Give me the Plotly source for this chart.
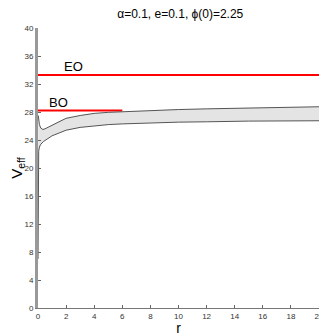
import plotly.graph_objects as go

# upper and lower boundary of the shaded V_eff band
r_upper = [0.02, 0.1, 0.2, 0.35, 0.5, 0.8, 1.2, 1.6, 2, 3, 4, 5, 6, 8, 10, 12, 15, 20]
v_upper = [27.5, 26.2, 25.7, 25.5, 25.6, 25.9, 26.4, 26.8, 27.1, 27.5, 27.8, 27.95, 28.05, 28.2, 28.35, 28.45, 28.6, 28.75]
r_lower = [0.0, 0.02, 0.05, 0.1, 0.2, 0.4, 0.7, 1, 1.5, 2, 3, 4, 5, 6, 8, 10, 12, 15, 20]
v_lower = [7.0, 20.0, 22.4, 23.0, 23.4, 23.8, 24.2, 24.6, 25.0, 25.4, 25.8, 26.05, 26.2, 26.3, 26.45, 26.55, 26.6, 26.7, 26.75]

# orbit energy levels
eo_level = 33.3
bo_level = 28.2
bo_end = 6.0

x_ticks = list(range(0, 21, 2))
y_ticks = list(range(0, 41, 4))

fig = go.Figure()

fig.add_trace(go.Scatter(
    x=r_upper + r_lower[::-1], y=v_upper + v_lower[::-1],
    fill='toself', fillcolor='#e4e4e4', mode='none', hoverinfo='skip'))
fig.add_trace(go.Scatter(x=[0, 20], y=[eo_level, eo_level], mode='lines',
                         line=dict(color='#ff0000', width=2)))
fig.add_trace(go.Scatter(x=[0, bo_end], y=[bo_level, bo_level], mode='lines',
                         line=dict(color='#ff0000', width=2)))
fig.add_trace(go.Scatter(x=r_upper, y=v_upper, mode='lines',
                         line=dict(color='#555555', width=1)))
fig.add_trace(go.Scatter(x=r_lower, y=v_lower, mode='lines',
                         line=dict(color='#555555', width=1)))

fig.add_annotation(x=0.65, y=bo_level, text='BO', showarrow=False,
                   xanchor='left', yanchor='bottom', yshift=-1,
                   font=dict(size=13, color='black'))
fig.add_annotation(x=1.7, y=eo_level, text='EO', showarrow=False,
                   xanchor='left', yanchor='bottom', yshift=-1,
                   font=dict(size=13, color='black'))

axis_common = dict(showgrid=False, zeroline=False, showline=True, automargin=False,
                   ticks='inside', ticklen=3, tickcolor='#666666',
                   ticklabeloverflow='allow',
                   tickfont=dict(size=8, color='#333333'))

fig.update_xaxes(range=[0, 20], tickvals=x_ticks, linecolor='#777777', linewidth=1,
                 title=dict(text='r', font=dict(size=14, color='black'), standoff=0),
                 **axis_common)
fig.update_yaxes(range=[0, 40], tickvals=y_ticks, linecolor='#999999', linewidth=3,
                 title=dict(text='V<sub>eff</sub>', font=dict(size=15, color='black'), standoff=4),
                 **axis_common)

# page body keeps an 8px margin, so the figure is 8px smaller than the window
fig.update_layout(
    width=319, height=328,
    margin=dict(l=30, r=8, t=20, b=28),
    paper_bgcolor='white', plot_bgcolor='white',
    showlegend=False,
    font=dict(family='Liberation Sans, Arial, sans-serif'),
    title=dict(text='\u03b1=0.1, e=0.1, \u03d5(0)=2.25', x=0.54, xanchor='center',
               y=0.982, yanchor='middle', font=dict(size=12, color='black')),
)

fig.write_html("out.html")
